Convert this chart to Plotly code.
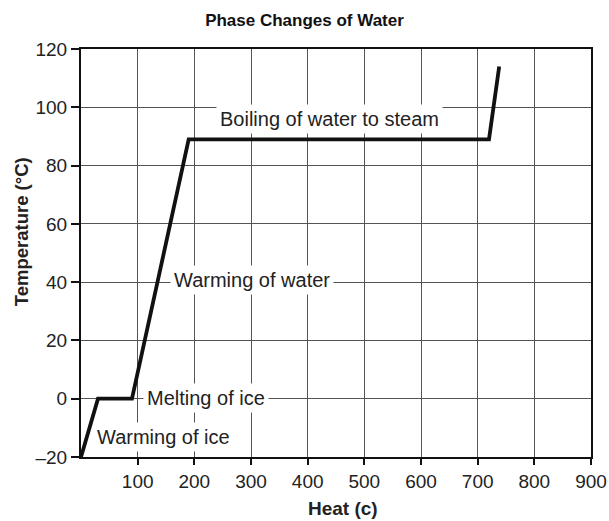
import plotly.graph_objects as go

heat = [0, 30, 90, 190, 720, 738]
temperature = [-20, 0, 0, 89, 89, 114]

x_tickvals = [100, 200, 300, 400, 500, 600, 700, 800, 900]
x_ticktext = ["100", "200", "300", "400", "500", "600", "700", "800", "900"]
y_tickvals = [-20, 0, 20, 40, 60, 80, 100, 120]
y_ticktext = ["\u201320", "0", "20", "40", "60", "80", "100", "120"]

label_text = ["Boiling of water to steam", "Warming of water", "Melting of ice", "Warming of ice"]
label_x = [439, 302, 220, 146]
label_y = [96.0, 40.7, 0.3, -13.2]

FONT = "Liberation Sans, Arial, Helvetica, sans-serif"

fig = go.Figure()
fig.add_trace(go.Scatter(x=heat, y=temperature, mode="lines",
                         line=dict(color="#111111", width=3.8), hoverinfo="skip",
                         showlegend=False))

for t, x, y in zip(label_text, label_x, label_y):
    fig.add_annotation(x=x, y=y, text=t, showarrow=False, bgcolor="white",
                       borderpad=3, font=dict(family=FONT, size=20, color="#222222"))

# axis titles as paper annotations
fig.add_annotation(xref="paper", yref="paper", x=-0.1176, y=0.551, text="<b>Temperature (°C)</b>",
                   textangle=-90, showarrow=False, xanchor="center", yanchor="middle",
                   font=dict(family=FONT, size=18.5, color="#222222"))
fig.add_annotation(xref="paper", yref="paper", x=0.513, y=-0.126, text="<b>Heat (c)</b>",
                   showarrow=False, xanchor="center", yanchor="middle",
                   font=dict(family=FONT, size=19, color="#222222"))

fig.update_layout(
    width=609, height=521,
    margin=dict(l=81, r=18, t=49, b=64, autoexpand=False),
    paper_bgcolor="white", plot_bgcolor="white",
    title=dict(text="<b>Phase Changes of Water</b>", x=0.5, xanchor="center",
               y=1 - 20 / 521, yanchor="middle",
               font=dict(family=FONT, size=17, color="#111111")),
    font=dict(family=FONT, color="#222222"),
    xaxis=dict(range=[0, 900], tickvals=x_tickvals, ticktext=x_ticktext,
               showgrid=True, gridcolor="#555555", gridwidth=1,
               showline=True, linecolor="#111111", linewidth=2, mirror=True,
               ticks="outside", ticklen=6, tickcolor="#111111", tickwidth=1.5,
               ticklabelstandoff=0,
               tickfont=dict(size=19, family=FONT, color="#222222"),
               zeroline=False, fixedrange=True, automargin=False),
    yaxis=dict(range=[-20, 120], tickvals=y_tickvals, ticktext=y_ticktext,
               showgrid=True, gridcolor="#555555", gridwidth=1,
               showline=True, linecolor="#111111", linewidth=2, mirror=True,
               ticks="outside", ticklen=8, tickcolor="#111111", tickwidth=1.5,
               ticklabelstandoff=0,
               tickfont=dict(size=19, family=FONT, color="#222222"),
               zeroline=False, fixedrange=True, automargin=False),
)

fig.write_html("out.html", config={"displayModeBar": False},
               post_script="document.body.style.margin='0';document.body.style.overflow='hidden';")
